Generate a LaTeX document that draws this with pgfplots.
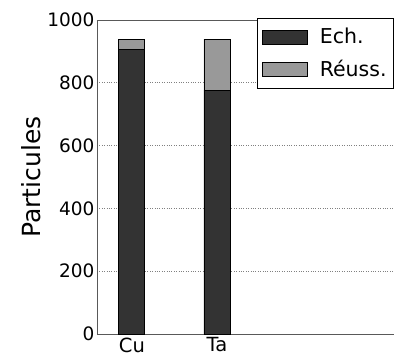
\documentclass[border=0pt]{standalone}
\usepackage{pgfplots}
\pgfplotsset{compat=1.18}
\usepackage{fontspec}
\setmainfont{DejaVu Sans}
\definecolor{darkbar}{HTML}{333333}
\definecolor{lightbar}{HTML}{999999}
\begin{document}
\begin{tikzpicture}[x=1pt,y=1pt]
\path[use as bounding box] (-97,-28) rectangle (297,334);
\begin{axis}[
  at={(0,0)}, anchor=south west,
  scale only axis,
  width=302pt, height=314pt,
  ybar stacked,
  bar width=26pt,
  xmin=-0.41, xmax=3.14,
  ymin=0, ymax=1000,
  xtick={0,1}, xticklabels={Cu,Ta},
  ytick={0,200,400,600,800,1000},
  ymajorgrids,
  grid style={dotted, gray, line width=0.7pt},
  axis line style={draw=black!65, line width=0.8pt},
  major tick length=0pt,
  tick label style={font=\fontsize{18.5}{20}\selectfont},
  xticklabel style={font=\fontsize{19.5}{21}\selectfont, yshift=0pt},
  /pgf/number format/assume math mode=true,
  /pgf/number format/1000 sep={},
  ylabel={Particules},
  ylabel style={font=\fontsize{25}{27}\selectfont, yshift=0pt},
  yticklabel style={xshift=1pt},
  legend style={at={(297pt,316pt)}, anchor=north east, draw=black, line width=0.8pt,
    font=\fontsize{20.5}{22}\selectfont, row sep=11pt, inner xsep=5pt, inner ysep=8pt,
    cells={anchor=west}},
  legend cell align=left,
  legend image code/.code={\draw[#1, line width=0.6pt] (0pt,-7pt) rectangle (45pt,7pt);\path (55pt,0pt);},
]
\addplot+[fill=darkbar, draw=black, line width=0.8pt] coordinates {(0,905) (1,777)};
\addplot+[fill=lightbar, draw=black, line width=0.8pt] coordinates {(0,34) (1,162)};
\legend{Ech., Réuss.}
\end{axis}
\end{tikzpicture}
\end{document}
